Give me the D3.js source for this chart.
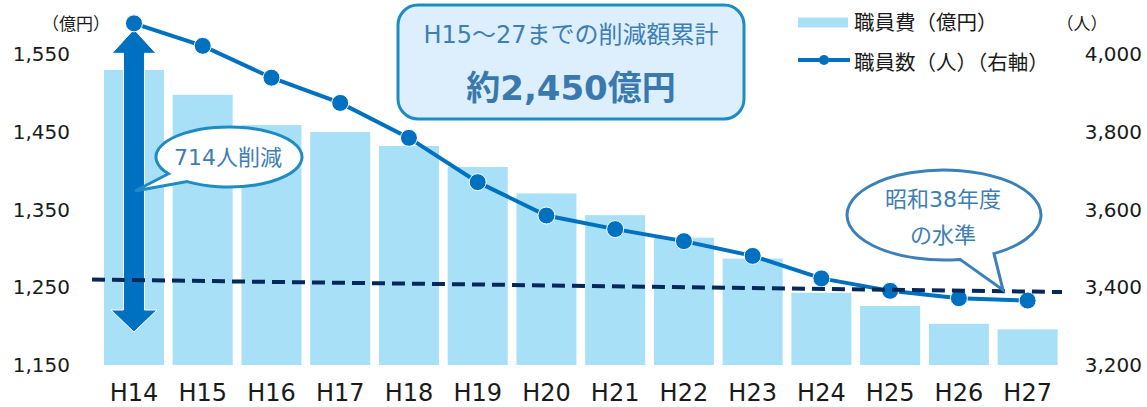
<!DOCTYPE html>
<html>
<head>
<meta charset="utf-8">
<script src="https://cdn.jsdelivr.net/npm/d3@7"></script>
<style>
  body { margin: 0; background: #fff; }
  svg { display: block; font-family: "DejaVu Sans", "Noto Sans CJK JP", sans-serif; }
  .jp { font-family: "Noto Sans CJK JP", sans-serif; }
</style>
</head>
<body>
<div id="chart"></div>
<script>
// data
var years = ["H14","H15","H16","H17","H18","H19","H20","H21","H22","H23","H24","H25","H26","H27"];
var costs = [1530, 1498, 1459, 1450, 1432, 1405, 1371, 1343, 1314, 1287, 1243, 1226, 1203, 1196];   // 職員費（億円）
var staff = [4080, 4022, 3940, 3875, 3785, 3671, 3585, 3550, 3519, 3481, 3423, 3391, 3372, 3366];   // 職員数（人）
var leftTicks = [1150, 1250, 1350, 1450, 1550];
var rightTicks = [3200, 3400, 3600, 3800, 4000];
var levelS38 = [3420, 3388];   // 昭和38年度の水準 (dashed, left end / right end)
var arrowBottom = 3285;

var W = 1147, H = 407;
var barColor = "#a8e1f7", lineColor = "#0070c0", calloutText = "#3d7eb4";

var svg = d3.select("#chart").append("svg")
    .attr("width", W)
    .attr("height", H);

var x = d3.scaleBand()
    .domain(years)
    .range([99.6, 1062])
    .paddingInner(0.127)
    .paddingOuter(0.0635);

var yL = d3.scaleLinear().domain([1150, 1550]).range([365, 54.4]);
var yR = d3.scaleLinear().domain([3200, 4000]).range([365, 54.4]);

// bars
svg.selectAll(".bar")
    .data(years)
  .enter().append("rect")
    .attr("class", "bar")
    .attr("x", function(d) { return x(d); })
    .attr("width", x.bandwidth())
    .attr("y", function(d, i) { return yL(costs[i]); })
    .attr("height", function(d, i) { return yL(1150) - yL(costs[i]); })
    .style("fill", barColor);

// axes
var fmt = d3.format(",");
var left = svg.append("g")
    .attr("transform", "translate(70,0)")
    .call(d3.axisLeft(yL).tickValues(leftTicks).tickSize(0).tickPadding(0).tickFormat(fmt));
var right = svg.append("g")
    .attr("transform", "translate(1142,0)")
    .call(d3.axisLeft(yR).tickValues(rightTicks).tickSize(0).tickPadding(0).tickFormat(fmt));
var bottom = svg.append("g")
    .attr("transform", "translate(0,365)")
    .call(d3.axisBottom(x).tickSize(0).tickPadding(19));

[left, right, bottom].forEach(function(g) {
  g.select(".domain").remove();
  g.selectAll("text")
      .style("font-family", "'DejaVu Sans', sans-serif")
      .style("font-size", "20px")
      .style("fill", "#1a1a1a");
});
bottom.selectAll("text").style("font-size", "24px");

svg.append("text").attr("class", "jp")
    .attr("x", 76).attr("y", 22)
    .attr("text-anchor", "middle").attr("dominant-baseline", "central")
    .style("font-size", "17px").style("fill", "#1a1a1a")
    .text("（億円）");
svg.append("text").attr("class", "jp")
    .attr("x", 1082).attr("y", 22)
    .attr("text-anchor", "middle").attr("dominant-baseline", "central")
    .style("font-size", "17px").style("fill", "#1a1a1a")
    .text("（人）");

// big double arrow (714人削減)
var ax = x("H14") + x.bandwidth() / 2;
var aTop = yR(staff[0]) + 6, aBot = yR(arrowBottom);
var sw = 10.5, hw = 22, hl = 24;
svg.append("path")
    .attr("d", "M" + ax + "," + aTop +
      "L" + (ax + hw) + "," + (aTop + hl) +
      "L" + (ax + sw) + "," + (aTop + hl) +
      "L" + (ax + sw) + "," + (aBot - hl + 2) +
      "L" + (ax + hw + 1) + "," + (aBot - hl + 2) +
      "L" + ax + "," + aBot +
      "L" + (ax - hw - 1) + "," + (aBot - hl + 2) +
      "L" + (ax - sw) + "," + (aBot - hl + 2) +
      "L" + (ax - sw) + "," + (aTop + hl) +
      "L" + (ax - hw) + "," + (aTop + hl) + "Z")
    .style("fill", lineColor)
    .style("stroke", "#fff")
    .style("stroke-width", 1);

// staff line
var line = d3.line()
    .x(function(d, i) { return x(years[i]) + x.bandwidth() / 2; })
    .y(function(d) { return yR(d); });

svg.append("path")
    .datum(staff)
    .attr("d", line)
    .style("fill", "none")
    .style("stroke", lineColor)
    .style("stroke-width", 4);

svg.selectAll(".dot")
    .data(staff)
  .enter().append("circle")
    .attr("class", "dot")
    .attr("r", 8.5)
    .attr("cx", function(d, i) { return x(years[i]) + x.bandwidth() / 2; })
    .attr("cy", function(d) { return yR(d); })
    .style("fill", lineColor)
    .style("stroke", "#fff")
    .style("stroke-width", 1);

// dashed level line
svg.append("line")
    .attr("x1", 92).attr("x2", 1062)
    .attr("y1", yR(levelS38[0])).attr("y2", yR(levelS38[1]))
    .style("stroke", "#07295a")
    .style("stroke-width", 4)
    .style("stroke-dasharray", "13,7");

// speech bubbles
function bubble(cx, cy, rx, ry, a1, a2, tip, stroke) {
  function p(a) {
    var t = a * Math.PI / 180;
    return [cx + rx * Math.cos(t), cy + ry * Math.sin(t)];
  }
  var p1 = p(a1), p2 = p(a2);
  svg.append("path")
      .attr("d", "M" + p1 + "L" + tip + "L" + p2 + "A" + rx + "," + ry + " 0 1 0 " + p1 + "Z")
      .style("fill", "#fff")
      .style("stroke", stroke)
      .style("stroke-width", 3)
      .style("stroke-linejoin", "miter");
}

bubble(229, 157, 73, 30, 146, 125, [135, 191], "#1e8bc3");
svg.append("text")
    .attr("x", 228).attr("y", 157)
    .attr("text-anchor", "middle").attr("dominant-baseline", "central")
    .style("font-size", "22px").style("fill", calloutText)
    .text("714人削減");

bubble(944, 215, 97, 45, 80.5, 59, [1003, 290], "#3b80b6");
svg.append("text")
    .attr("x", 943).attr("y", 199)
    .attr("text-anchor", "middle").attr("dominant-baseline", "central")
    .style("font-size", "22px").style("fill", calloutText)
    .text("昭和38年度");
svg.append("text")
    .attr("x", 943).attr("y", 235)
    .attr("text-anchor", "middle").attr("dominant-baseline", "central")
    .style("font-size", "22px").style("fill", calloutText)
    .text("の水準");

// total box
svg.append("rect")
    .attr("x", 398).attr("y", 5)
    .attr("width", 346).attr("height", 114)
    .attr("rx", 20)
    .style("fill", "#ddeffc")
    .style("stroke", "#1e8bc3")
    .style("stroke-width", 3);
svg.append("text")
    .attr("x", 571).attr("y", 35)
    .attr("text-anchor", "middle").attr("dominant-baseline", "central")
    .style("font-size", "24px").style("fill", calloutText)
    .text("H15～27までの削減額累計");
svg.append("text")
    .attr("x", 571).attr("y", 88)
    .attr("text-anchor", "middle").attr("dominant-baseline", "central")
    .style("font-size", "34px").style("font-weight", "bold").style("fill", "#3a79ae")
    .text("約2,450億円");

// legend
svg.append("rect")
    .attr("x", 798).attr("y", 17.5)
    .attr("width", 50).attr("height", 10)
    .style("fill", barColor);
svg.append("text").attr("class", "jp")
    .attr("x", 854).attr("y", 21)
    .attr("dominant-baseline", "central")
    .style("font-size", "20.5px").style("fill", "#1a1a1a")
    .text("職員費（億円）");
svg.append("line")
    .attr("x1", 798).attr("x2", 850)
    .attr("y1", 60).attr("y2", 60)
    .style("stroke", lineColor)
    .style("stroke-width", 4);
svg.append("circle")
    .attr("cx", 824).attr("cy", 60).attr("r", 5)
    .style("fill", lineColor);
svg.append("text").attr("class", "jp")
    .attr("x", 854).attr("y", 61)
    .attr("dominant-baseline", "central")
    .style("font-size", "20.5px").style("fill", "#1a1a1a")
    .text("職員数（人）（右軸）");
</script>
</body>
</html>
